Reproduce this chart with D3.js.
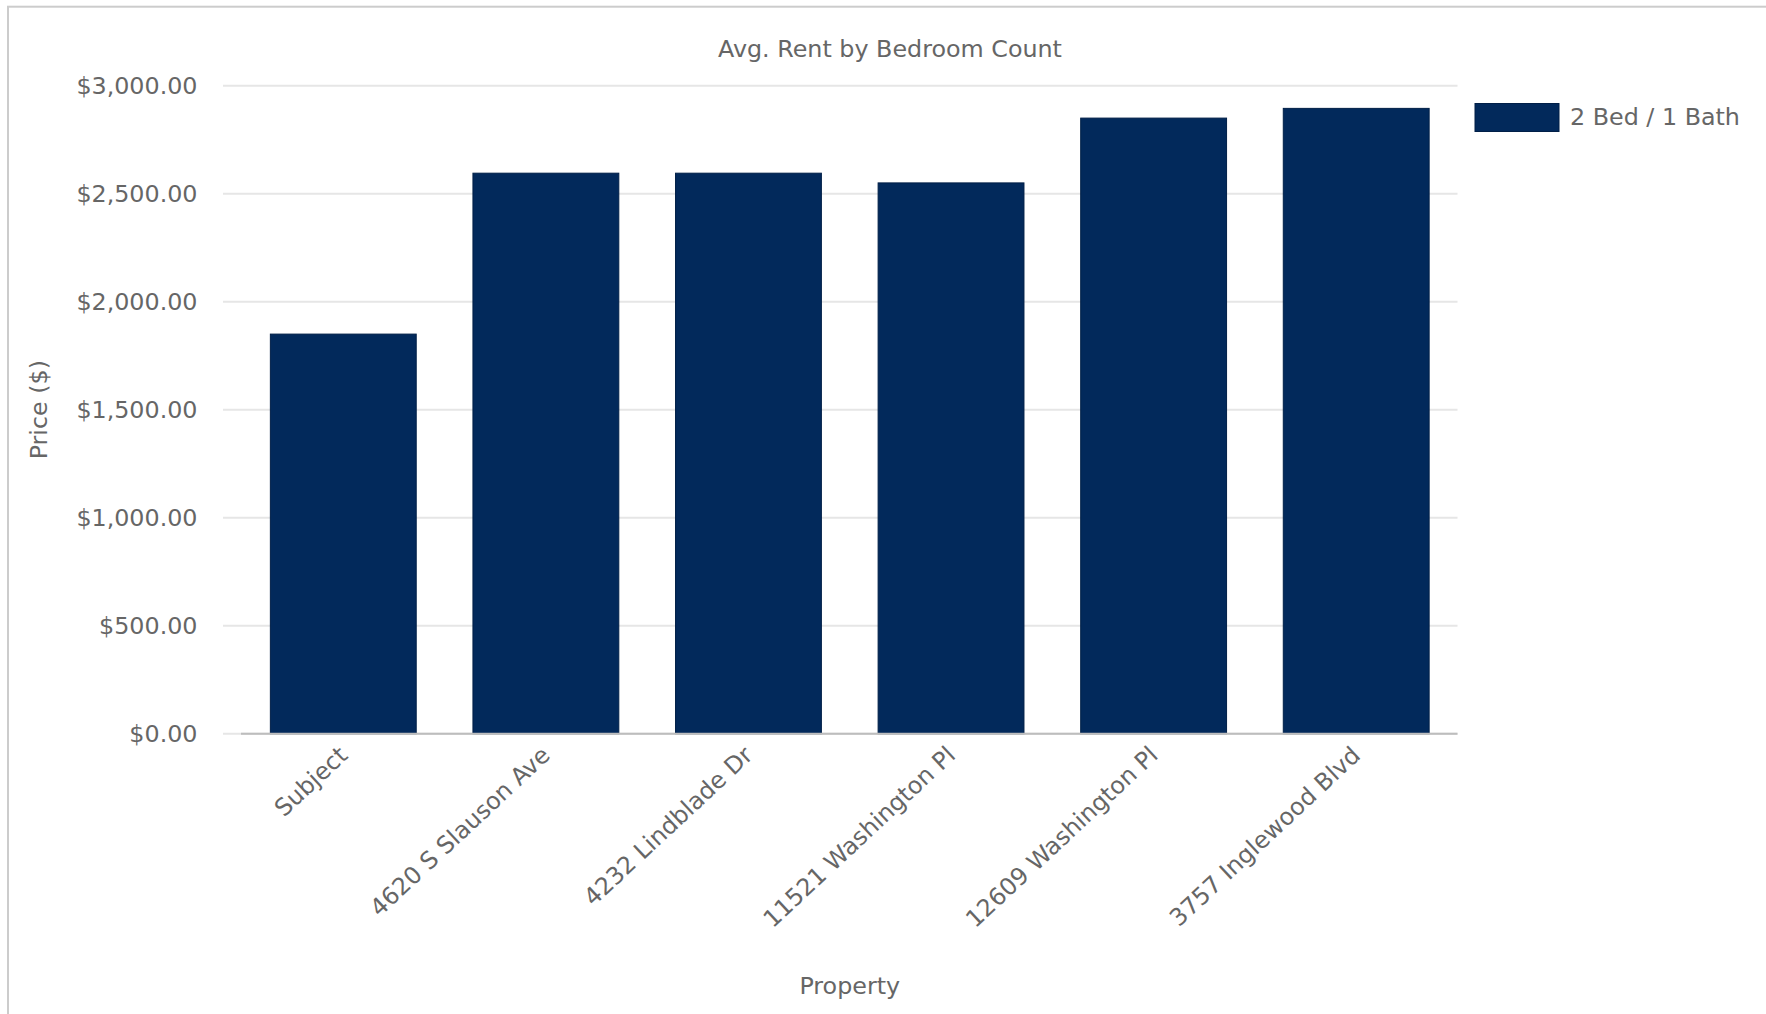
<!DOCTYPE html>
<html>
<head>
<meta charset="utf-8">
<script src="https://cdn.jsdelivr.net/npm/d3@7"></script>
<style>
  html, body { margin: 0; padding: 0; background: #fff; }
  svg { display: block; }
  text { font-family: "DejaVu Sans", sans-serif; fill: #666; }
</style>
</head>
<body>
<svg id="chart" width="1766" height="1014"></svg>
<script>
const categories = ["Subject", "4620 S Slauson Ave", "4232 Lindblade Dr", "11521 Washington Pl", "12609 Washington Pl", "3757 Inglewood Blvd"];
const seriesName = "2 Bed / 1 Bath";
const values = [1850, 2595, 2595, 2550, 2850, 2895];
const yTicks = [0, 500, 1000, 1500, 2000, 2500, 3000];
const chartTitle = "Avg. Rent by Bedroom Count";
const xTitle = "Property";
const yTitle = "Price ($)";

const W = 1766, H = 1014;
const FS = 23.8;
const barColor = "#02295b";
const svg = d3.select("#chart");

// outer frame
svg.append("rect").attr("x", 8).attr("y", 6.7).attr("width", W + 10).attr("height", H + 10)
  .attr("fill", "none").attr("stroke", "#cccccc").attr("stroke-width", 2);

const plotLeft = 242, plotRight = 1457.5, plotTop = 85.7, plotBottom = 733.7;
const gridLeft = 223;

const x = d3.scaleBand().domain(categories).range([plotLeft, plotRight])
  .paddingInner(0.28).paddingOuter(0.14);
const y = d3.scaleLinear().domain([0, 3000]).range([plotBottom, plotTop]);
const fmt = d3.format("$,.2f");

// gridlines
svg.append("g").selectAll("line").data(yTicks).join("line")
  .attr("x1", gridLeft).attr("x2", plotRight)
  .attr("y1", d => y(d)).attr("y2", d => y(d))
  .attr("stroke", "#e6e6e6").attr("stroke-width", 2);

// y tick labels
svg.append("g").selectAll("text").data(yTicks).join("text")
  .attr("x", 197.5).attr("y", d => y(d)).attr("dy", "0.34em")
  .attr("text-anchor", "end").style("font-size", FS + "px")
  .text(d => fmt(d));

// bars
svg.append("g").selectAll("rect").data(values).join("rect")
  .attr("x", (d, i) => x(categories[i]))
  .attr("width", x.bandwidth())
  .attr("y", d => y(d))
  .attr("height", d => y(0) - y(d))
  .attr("fill", barColor)
  .attr("stroke", "#011f47").attr("stroke-width", 1);

// x axis line
svg.append("line").attr("x1", plotLeft - 1).attr("x2", plotRight)
  .attr("y1", y(0)).attr("y2", y(0))
  .attr("stroke", "#bdbdbd").attr("stroke-width", 2);

// x labels
svg.append("g").selectAll("text").data(categories).join("text")
  .attr("transform", d => `translate(${x(d) + x.bandwidth() / 2},751) rotate(-43)`)
  .attr("text-anchor", "end").attr("dy", "0.35em")
  .style("font-size", FS + "px")
  .text(d => d);

// title
svg.append("text").attr("x", 890).attr("y", 57).attr("text-anchor", "middle")
  .style("font-size", FS + "px").text(chartTitle);

// axis titles
svg.append("text").attr("x", (plotLeft + plotRight) / 2).attr("y", 994)
  .attr("text-anchor", "middle").style("font-size", FS + "px").text(xTitle);
svg.append("text")
  .attr("transform", `translate(47,${(plotTop + plotBottom) / 2}) rotate(-90)`)
  .attr("text-anchor", "middle").style("font-size", FS + "px").text(yTitle);

// legend
const lg = svg.append("g");
lg.append("rect").attr("x", 1475).attr("y", 103.5).attr("width", 84).attr("height", 28)
  .attr("fill", barColor).attr("stroke", "#011f47").attr("stroke-width", 1);
lg.append("text").attr("x", 1570).attr("y", 125).style("font-size", FS + "px").text(seriesName);
</script>
</body>
</html>
